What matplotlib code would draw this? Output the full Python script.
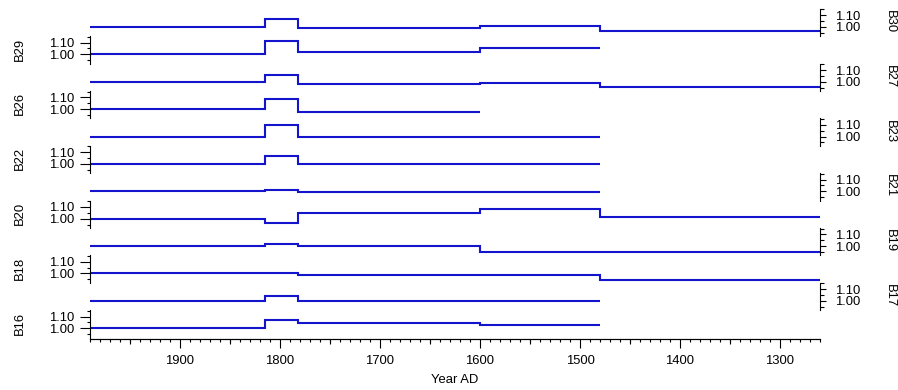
import matplotlib
matplotlib.use("Agg")
import matplotlib.pyplot as plt
import matplotlib.transforms as mtransforms

plt.rcParams['font.family'] = ['Liberation Sans', 'DejaVu Sans']
plt.rcParams['font.size'] = 9.4

# zone boundaries in Year AD (plotted right to left)
edges = [1990, 1815, 1782, 1600, 1480, 1260]

# panels from top to bottom, values relative to the youngest zone
panel_names = ['B30', 'B29', 'B27', 'B26', 'B23', 'B22',
               'B21', 'B20', 'B19', 'B18', 'B17', 'B16']
b30 = [1.00, 1.068, 0.988, 1.010, 0.965]
b29 = [1.00, 1.116, 1.020, 1.051]
b27 = [1.00, 1.060, 0.983, 0.991, 0.957]
b26 = [1.00, 1.084, 0.977]
b23 = [1.00, 1.098, 1.000, 0.996]
b22 = [1.00, 1.070, 1.000, 1.000]
b21 = [1.00, 1.011, 0.997, 0.994]
b20 = [1.00, 0.961, 1.046, 1.083, 1.017]
b19 = [1.00, 1.018, 1.000, 0.952, 0.952]
b18 = [1.00, 1.007, 0.987, 0.987, 0.944]
b17 = [1.00, 1.044, 1.000, 0.997]
b16 = [1.00, 1.074, 1.043, 1.028]
panel_values = [b30, b29, b27, b26, b23, b22, b21, b20, b19, b18, b17, b16]

ytick_major = [1.00, 1.10]
ytick_labels = ['1.00', '1.10']
ytick_minor = [0.95, 1.05, 1.15]
xtick_major = [1900, 1800, 1700, 1600, 1500, 1400, 1300]
xtick_mid = [1950, 1850, 1750, 1650, 1550, 1450, 1350]
xtick_minor = list(range(1990, 1259, -10))

line_color = '#1414cc'
left, right = 0.1002, 0.9131
top, bottom = 0.9774, 0.1346


def style_panel(ax, side):
    """Keep only one y spine, on the given side, C2 style."""
    for s in ['top', 'bottom', 'left', 'right']:
        ax.spines[s].set_visible(s == side)
    ax.spines[side].set_linewidth(0.8)
    ax.patch.set_alpha(0)
    ax.tick_params(axis='x', bottom=False, labelbottom=False)
    if side == 'right':
        ax.yaxis.tick_right()
        ax.tick_params(axis='y', which='major', length=4.5, pad=6.5, width=0.8)
        ax.tick_params(axis='y', which='minor', length=3.0, width=0.8)
    else:
        ax.yaxis.tick_left()
        ax.tick_params(axis='y', which='major', length=7.2, pad=3.8, width=0.8)
        ax.tick_params(axis='y', which='minor', length=2.2, width=0.8)
    ax.set_yticks(ytick_major)
    ax.set_yticklabels(ytick_labels)
    ax.set_yticks(ytick_minor, minor=True)


def main():
    fig = plt.figure(figsize=(8.98, 3.9), dpi=100)
    axes = fig.subplots(len(panel_names), 1, sharex=True,
                        gridspec_kw=dict(hspace=0, left=left, right=right,
                                         top=top, bottom=bottom))

    for i, (ax, name, vals) in enumerate(zip(axes, panel_names, panel_values)):
        ax.stairs(vals, edges[:len(vals) + 1], baseline=None,
                  color=line_color, linewidth=1.5, clip_on=False)
        ax.set_xlim(1990, 1260)
        ax.set_ylim(0.921, 1.155)
        side = 'right' if i % 2 == 0 else 'left'
        style_panel(ax, side)
        trans = mtransforms.blended_transform_factory(fig.transFigure, ax.transData)
        if side == 'right':
            ax.text(0.991, 1.045, name, transform=trans, rotation=270,
                    ha='center', va='center')
        else:
            ax.text(0.0223, 1.045, name, transform=trans, rotation=90,
                    ha='center', va='center')

    # x axis drawn separately just under the stack
    ax_x = fig.add_axes([left, 0.132, right - left, 0.0001])
    ax_x.set_xlim(1990, 1260)
    for s in ['top', 'left', 'right']:
        ax_x.spines[s].set_visible(False)
    ax_x.spines['bottom'].set_linewidth(0.8)
    ax_x.patch.set_alpha(0)
    ax_x.set_yticks([])
    ax_x.set_xticks(xtick_major)
    ax_x.set_xticklabels([str(t) for t in xtick_major])
    ax_x.set_xticks(xtick_minor, minor=True)
    ax_x.tick_params(axis='x', which='major', length=6.5, width=0.8, pad=5.5)
    ax_x.tick_params(axis='x', which='minor', length=2.2, width=0.8)

    sec = ax_x.secondary_xaxis('bottom')
    sec.set_xticks(xtick_mid)
    sec.set_xticklabels([''] * len(xtick_mid))
    sec.tick_params(axis='x', length=3.8, width=0.8)
    sec.spines['bottom'].set_linewidth(0.8)

    fig.text(455 / 898, 1 - 380 / 390, 'Year AD', ha='center', va='center')

    fig.savefig('out.png', dpi=100)


if __name__ == "__main__":
    main()
